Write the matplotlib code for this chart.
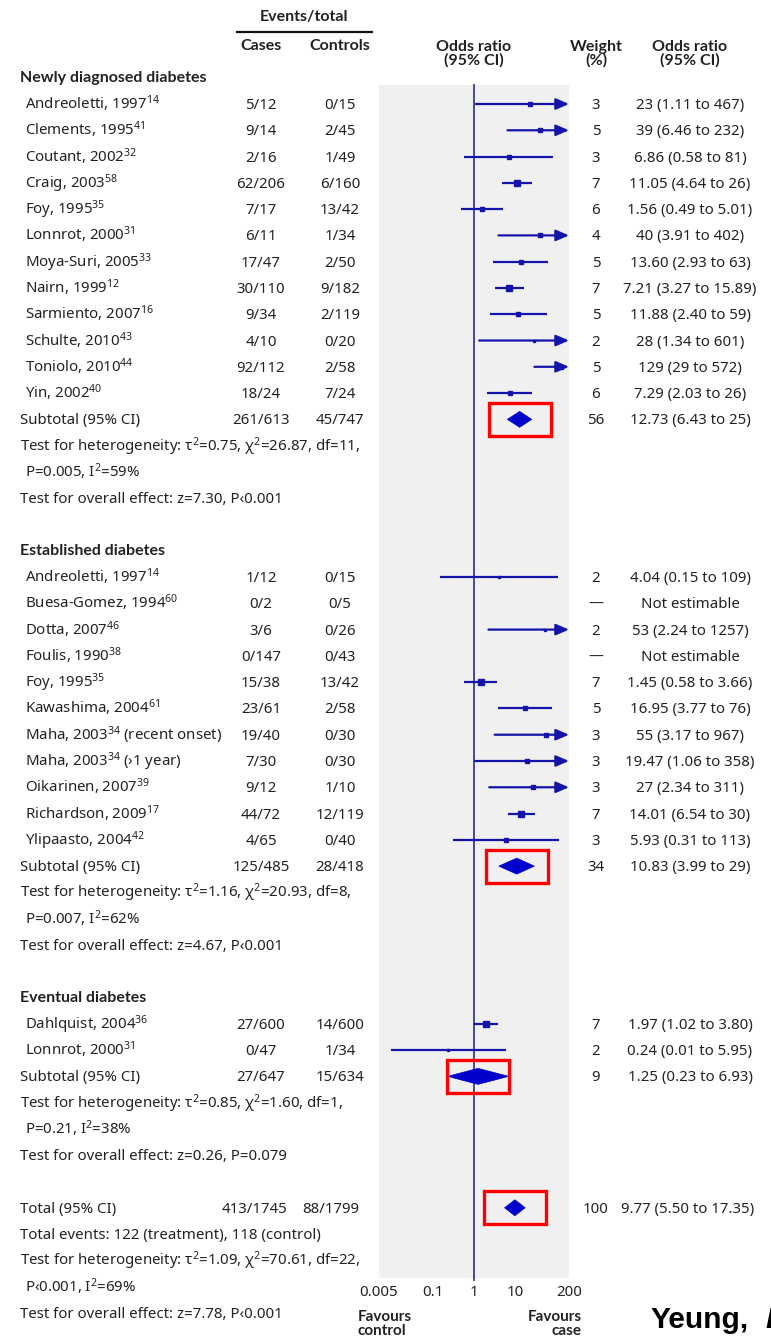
import numpy as np
import matplotlib.pyplot as plt
from matplotlib.patches import Polygon, Rectangle

plt.rcParams['font.family'] = ['Noto Sans', 'DejaVu Sans']
plt.rcParams['mathtext.fontset'] = 'custom'
plt.rcParams['mathtext.rm'] = 'Noto Sans'
plt.rcParams['mathtext.it'] = 'Noto Sans:italic'

# ---- data ----
groups = ["Newly diagnosed diabetes", "Established diabetes", "Eventual diabetes"]

names1 = ["Andreoletti, 1997", "Clements, 1995", "Coutant, 2002", "Craig, 2003", "Foy, 1995",
          "Lonnrot, 2000", "Moya-Suri, 2005", "Nairn, 1999", "Sarmiento, 2007", "Schulte, 2010",
          "Toniolo, 2010", "Yin, 2002"]
refs1 = ["14", "41", "32", "58", "35", "31", "33", "12", "16", "43", "44", "40"]
suffix1 = [""] * 12
cases1 = ["5/12", "9/14", "2/16", "62/206", "7/17", "6/11", "17/47", "30/110", "9/34", "4/10", "92/112", "18/24"]
controls1 = ["0/15", "2/45", "1/49", "6/160", "13/42", "1/34", "2/50", "9/182", "2/119", "0/20", "2/58", "7/24"]
weights1 = ["3", "5", "3", "7", "6", "4", "5", "7", "5", "2", "5", "6"]
or1 = ["23", "39", "6.86", "11.05", "1.56", "40", "13.60", "7.21", "11.88", "28", "129", "7.29"]
lo1 = ["1.11", "6.46", "0.58", "4.64", "0.49", "3.91", "2.93", "3.27", "2.40", "1.34", "29", "2.03"]
hi1 = ["467", "232", "81", "26", "5.01", "402", "63", "15.89", "59", "601", "572", "26"]

names2 = ["Andreoletti, 1997", "Buesa-Gomez, 1994", "Dotta, 2007", "Foulis, 1990", "Foy, 1995",
          "Kawashima, 2004", "Maha, 2003", "Maha, 2003", "Oikarinen, 2007", "Richardson, 2009",
          "Ylipaasto, 2004"]
refs2 = ["14", "60", "46", "38", "35", "61", "34", "34", "39", "17", "42"]
suffix2 = ["", "", "", "", "", "", " (recent onset)", " (›1 year)", "", "", ""]
cases2 = ["1/12", "0/2", "3/6", "0/147", "15/38", "23/61", "19/40", "7/30", "9/12", "44/72", "4/65"]
controls2 = ["0/15", "0/5", "0/26", "0/43", "13/42", "2/58", "0/30", "0/30", "1/10", "12/119", "0/40"]
weights2 = ["2", "—", "2", "—", "7", "5", "3", "3", "3", "7", "3"]
or2 = ["4.04", "", "53", "", "1.45", "16.95", "55", "19.47", "27", "14.01", "5.93"]
lo2 = ["0.15", "", "2.24", "", "0.58", "3.77", "3.17", "1.06", "2.34", "6.54", "0.31"]
hi2 = ["109", "", "1257", "", "3.66", "76", "967", "358", "311", "30", "113"]

names3 = ["Dahlquist, 2004", "Lonnrot, 2000"]
refs3 = ["36", "31"]
suffix3 = ["", ""]
cases3 = ["27/600", "0/47"]
controls3 = ["14/600", "1/34"]
weights3 = ["7", "2"]
or3 = ["1.97", "0.24"]
lo3 = ["1.02", "0.01"]
hi3 = ["3.80", "5.95"]

sub_cases = ["261/613", "125/485", "27/647"]
sub_controls = ["45/747", "28/418", "15/634"]
sub_weights = ["56", "34", "9"]
sub_or = ["12.73", "10.83", "1.25"]
sub_lo = ["6.43", "3.99", "0.23"]
sub_hi = ["25", "29", "6.93"]
sub_het1 = ["Test for heterogeneity: τ$^2$=0.75, χ$^2$=26.87, df=11,",
            "Test for heterogeneity: τ$^2$=1.16, χ$^2$=20.93, df=8,",
            "Test for heterogeneity: τ$^2$=0.85, χ$^2$=1.60, df=1,"]
sub_het2 = ["P=0.005, I$^2$=59%", "P=0.007, I$^2$=62%", "P=0.21, I$^2$=38%"]
sub_overall = ["Test for overall effect: z=7.30, P‹0.001",
               "Test for overall effect: z=4.67, P‹0.001",
               "Test for overall effect: z=0.26, P=0.079"]

tot_cases, tot_controls, tot_weight = "413/1745", "88/1799", "100"
tot_or, tot_lo, tot_hi = "9.77", "5.50", "17.35"
tot_lines = ["Total events: 122 (treatment), 118 (control)",
             "Test for heterogeneity: τ$^2$=1.09, χ$^2$=70.61, df=22,",
             "P‹0.001, I$^2$=69%",
             "Test for overall effect: z=7.78, P‹0.001"]

ticks = [0.005, 0.1, 1, 10, 200]
tick_labels = ["0.005", "0.1", "1", "10", "200"]

study_sets = [
    (names1, refs1, suffix1, cases1, controls1, weights1, or1, lo1, hi1),
    (names2, refs2, suffix2, cases2, controls2, weights2, or2, lo2, hi2),
    (names3, refs3, suffix3, cases3, controls3, weights3, or3, lo3, hi3),
]

# ---- layout ----
W, H = 771, 1340
TXT = '#222222'
BLUE = '#1414aa'
DIAM = '#0000cc'
FS = 10.8
HEAD = ['Lato', 'DejaVu Sans']

fig = plt.figure(figsize=(W / 100, H / 100), dpi=100)
bg = fig.add_axes([0, 0, 1, 1])
bg.set_xlim(0, W)
bg.set_ylim(H, 0)
bg.axis('off')

top, bottom, left, right = 85, 1278, 379, 569
ax = fig.add_axes([left / W, 1 - bottom / H, (right - left) / W, (bottom - top) / H])
ax.set_xscale('log')
ax.set_xlim(0.005, 200)
ax.set_ylim(bottom, top)
ax.set_facecolor('#f0f0f0')
for s in ax.spines.values():
    s.set_visible(False)
ax.set_yticks([])
ax.set_xticks(ticks)
ax.set_xticklabels(tick_labels)
ax.minorticks_off()
ax.tick_params(axis='x', length=0, pad=5, labelsize=FS, labelcolor=TXT)
ax.axvline(1, color='#3c3c8c', lw=1.3, ymin=-0.002, ymax=1, clip_on=False, zorder=1)


def ry(i):
    return 104 + 26.28 * i


def txt(x, i, s, ha='left', **kw):
    bg.text(x, ry(i) + 5, s, ha=ha, va='baseline', fontsize=FS, color=TXT, **kw)


def head(x, y, s, ha='center', size=11.5, **kw):
    bg.text(x, y, s, ha=ha, va='center', fontsize=size, fontweight='bold', family=HEAD,
            color=TXT, linespacing=0.95, **kw)


def diamond(i, o, lo, hi):
    y = ry(i)
    ax.add_patch(Polygon([(lo, y), (o, y - 8), (hi, y), (o, y + 8)], closed=True,
                         facecolor=DIAM, edgecolor=DIAM, lw=0.5, zorder=3))
    c = np.sqrt(lo * hi)
    f = 10 ** (31 / 41.3)
    ax.add_patch(Rectangle((c / f, y - 16.5), c * f - c / f, 33, fill=False,
                           edgecolor='#ff0000', lw=2.4, zorder=4, clip_on=False))


# header
head(304, 17, "Events/total")
bg.plot([237, 372], [32, 32], color='#111111', lw=1.6)
head(261, 46, "Cases")
head(340, 46, "Controls")
head(474, 54, "Odds ratio\n(95% CI)")
head(596, 54, "Weight\n(%)")
head(690, 54, "Odds ratio\n(95% CI)")

row = -1
for g, (names, refs, suffix, cases, controls, weights, ors, los, his) in enumerate(study_sets):
    head(20, ry(row), groups[g], ha='left')
    row += 1
    for k in range(len(names)):
        txt(25, row, names[k] + r"$^{\mathrm{" + refs[k] + "}}$" + suffix[k])
        txt(261, row, cases[k], ha='center')
        txt(340, row, controls[k], ha='center')
        txt(596, row, weights[k], ha='center')
        if ors[k]:
            txt(690, row, f"{ors[k]} ({los[k]} to {his[k]})", ha='center')
            o, lo, hi = float(ors[k]), float(los[k]), float(his[k])
            y = ry(row)
            if hi > 200:
                ax.annotate('', xy=(200, y), xytext=(lo, y),
                            arrowprops=dict(arrowstyle='-|>,head_length=0.65,head_width=0.28',
                                            color=BLUE, lw=1.6, mutation_scale=12,
                                            shrinkA=0, shrinkB=0), zorder=3)
            else:
                ax.plot([lo, hi], [y, y], color=BLUE, lw=1.6, zorder=3, solid_capstyle='butt')
            w = float(weights[k])
            ax.plot(o, y, marker='s', ms=(1.6 + 0.55 * w) * 0.72, color=BLUE, zorder=4)
        else:
            txt(690, row, "Not estimable", ha='center')
        row += 1
    txt(20, row, "Subtotal (95% CI)")
    txt(261, row, sub_cases[g], ha='center')
    txt(340, row, sub_controls[g], ha='center')
    txt(596, row, sub_weights[g], ha='center')
    txt(690, row, f"{sub_or[g]} ({sub_lo[g]} to {sub_hi[g]})", ha='center')
    diamond(row, float(sub_or[g]), float(sub_lo[g]), float(sub_hi[g]))
    row += 1
    txt(20, row, sub_het1[g])
    row += 1
    txt(25, row, sub_het2[g])
    row += 1
    txt(20, row, sub_overall[g])
    row += 2

txt(20, row, "Total (95% CI)")
txt(255, row, tot_cases, ha='center')
txt(331, row, tot_controls, ha='center')
txt(596, row, tot_weight, ha='center')
txt(688, row, f"{tot_or} ({tot_lo} to {tot_hi})", ha='center')
diamond(row, float(tot_or), float(tot_lo), float(tot_hi))
for j, s in enumerate(tot_lines):
    txt(25 if j == 2 else 20, row + 1 + j, s)

# favours labels
head(358, 1324, "Favours\ncontrol", ha='left', size=11)
head(582, 1324, "Favours\ncase", ha='right', size=11, multialignment='right')

# source caption (cut at the right edge)
bg.text(650, 1320, "Yeung,", ha='left', va='center', fontsize=21.5, fontweight='bold',
        family=['Liberation Sans', 'DejaVu Sans'], color='black')
bg.text(765, 1320, "BMJ", ha='left', va='center', fontsize=21.5, fontweight='bold', style='italic',
        family=['Liberation Sans', 'DejaVu Sans'], color='black')

fig.savefig('out.png', dpi=100)
